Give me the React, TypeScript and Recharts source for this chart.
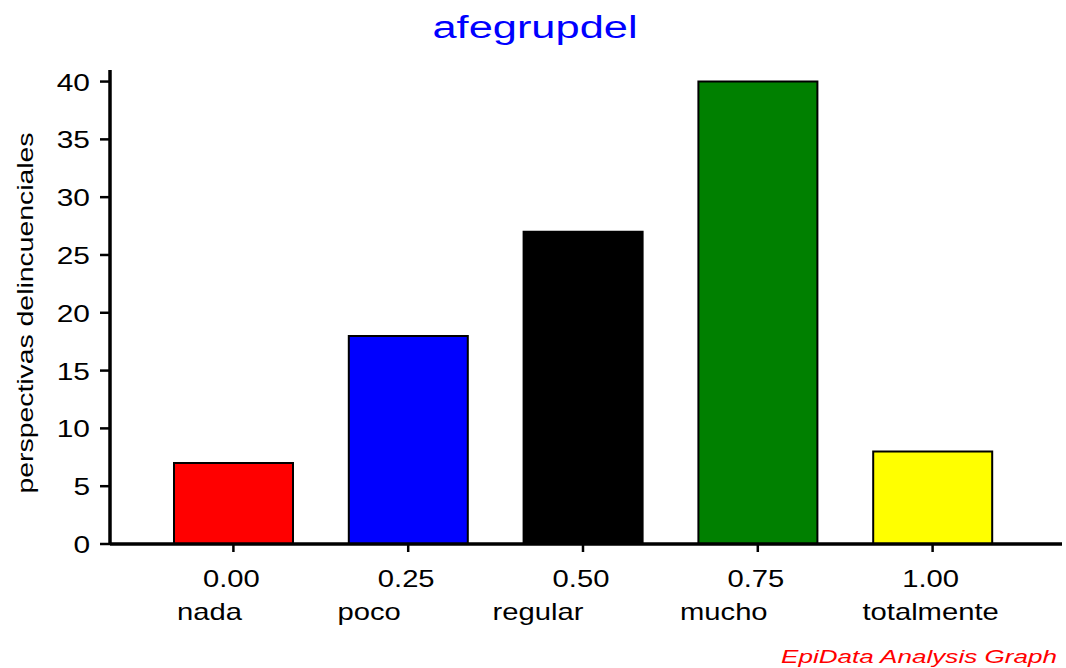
import React from "react";
import { BarChart, Bar, XAxis, YAxis, Cell } from "recharts";

const codes = ["0.00", "0.25", "0.50", "0.75", "1.00"];
const labels = ["nada", "poco", "regular", "mucho", "totalmente"];
const counts = [7, 18, 27, 40, 8];
const colors = ["#ff0000", "#0000ff", "#000000", "#008000", "#ffff00"];
const yTicks = [0, 5, 10, 15, 20, 25, 30, 35, 40];

const data = codes.map((c, i) => ({ code: c, label: labels[i], value: counts[i] }));

// layout: horizontal shift of each category name relative to its tick (as in the reference)
const labelShift = [-24, -39, -45, -34, -2];

const FONT = "'Liberation Sans', Arial, sans-serif";
const SX = 1.27;

const XTick = (props: any) => {
  const { x, y, payload, index } = props;
  return (
    <g>
      <text transform={`translate(${x - 2},${y + 33}) scale(${SX},1)`} textAnchor="middle" fontSize={23} fill="#000" fontFamily={FONT}>
        {payload.value}
      </text>
      <text transform={`translate(${x + labelShift[index]},${y + 66}) scale(${SX},1)`} textAnchor="middle" fontSize={23} fill="#000" fontFamily={FONT}>
        {labels[index]}
      </text>
    </g>
  );
};

const YTick = (props: any) => {
  const { x, y, payload } = props;
  return (
    <text transform={`translate(${x - 8},${y + 9}) scale(1.3,1)`} textAnchor="end" fontSize={23} fill="#000" fontFamily={FONT}>
      {payload.value}
    </text>
  );
};

export default function App() {
  return (
    <div style={{ position: "absolute", left: 0, top: 0, width: 1066, height: 668, background: "#fff" }}>
      <div style={{ position: "absolute", left: 0, top: 0 }}>
        <BarChart width={1066} height={668} data={data} margin={{ top: 70, right: 4, bottom: 0, left: 50 }} barCategoryGap={0}>
          <XAxis
            dataKey="code"
            tick={<XTick />}
            interval={0}
            axisLine={{ stroke: "#000", strokeWidth: 3.5 }}
            tickLine={{ stroke: "#000", strokeWidth: 2.5 }}
            tickSize={8}
            padding={{ left: 36, right: 42 }}
            height={124}
          />
          <YAxis
            width={60}
            domain={[0, 41]}
            ticks={yTicks}
            interval={0}
            axisLine={{ stroke: "#000", strokeWidth: 3.5 }}
            tickLine={{ stroke: "#000", strokeWidth: 2.5 }}
            tickSize={10}
            tick={<YTick />}
          />
          <Bar dataKey="value" barSize={119} stroke="#000" strokeWidth={2} isAnimationActive={false}>
            {data.map((d, i) => (
              <Cell key={d.code} fill={colors[i]} />
            ))}
          </Bar>
        </BarChart>
      </div>
      <svg width={1066} height={668} style={{ position: "absolute", left: 0, top: 0, pointerEvents: "none" }}>
        <text transform="translate(535,38) scale(1.4,1)" textAnchor="middle" fontSize={31} fill="#0000ff" fontFamily={FONT}>
          afegrupdel
        </text>
        <text transform="translate(33,313) rotate(-90) scale(1.29,1)" textAnchor="middle" fontSize={22} fill="#000" fontFamily={FONT}>
          perspectivas delincuenciales
        </text>
        <text transform="translate(1057,663) scale(1.45,1)" textAnchor="end" fontSize={18} fontStyle="italic" fill="#ff0000" fontFamily={FONT}>
          EpiData Analysis Graph
        </text>
      </svg>
    </div>
  );
}
